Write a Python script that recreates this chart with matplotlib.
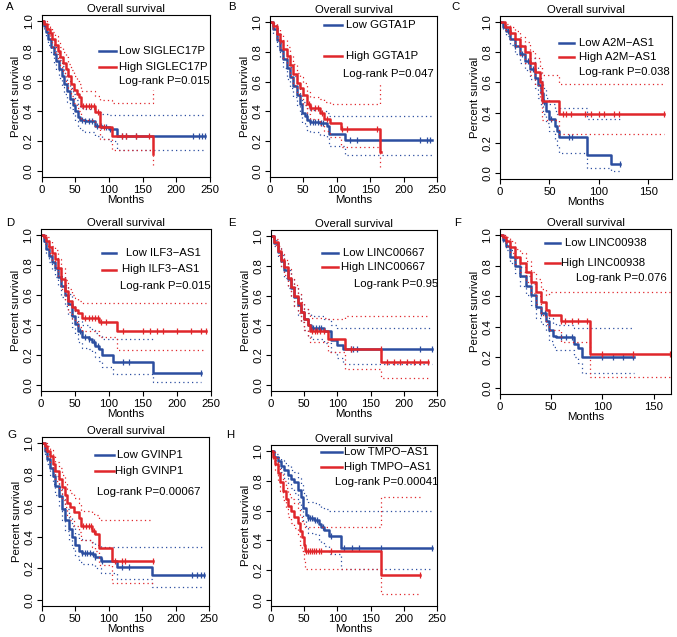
import numpy as np
import matplotlib
matplotlib.use("Agg")
import matplotlib.pyplot as plt

plt.rcParams["font.family"] = ["Liberation Sans", "DejaVu Sans"]

BLUE = "#2c4ea0"
RED = "#e0262b"

# (months, survival, ci_low, ci_high) step points
A_LOW = [(0, 1, 1, 1), (3, .97, .95, .99), (6, .93, .90, .96), (10, .88, .84, .92), (14, .83, .78, .88),
         (18, .78, .72, .84), (22, .73, .67, .79), (26, .68, .62, .74), (30, .63, .56, .70), (34, .58, .51, .65),
         (38, .53, .46, .60), (42, .48, .41, .55), (46, .44, .37, .51), (50, .40, .33, .47), (54, .36, .29, .43),
         (57, .34, .27, .42), (65, .33, .26, .41), (80, .30, .23, .39), (90, .29, .21, .38), (100, .28, .20, .37),
         (112, .23, .14, .37), (243, .23, .14, .37)]
A_HIGH = [(0, 1, 1, 1), (4, .98, .96, 1), (8, .95, .92, .98), (12, .92, .88, .96), (16, .88, .83, .93),
          (20, .84, .78, .90), (24, .80, .74, .86), (28, .76, .69, .83), (32, .72, .65, .79), (36, .68, .60, .76),
          (40, .63, .55, .71), (44, .58, .50, .67), (48, .54, .45, .63), (52, .51, .42, .60), (56, .49, .40, .58),
          (59, .43, .34, .53), (80, .39, .29, .50), (87, .29, .21, .47), (105, .23, .14, .45), (165, .11, .04, .54),
          (166, .11, .04, .54)]
A_LOW_CENS = [60, 65, 70, 75, 82, 88, 95, 102, 120, 125, 140, 225, 233, 238, 243]
A_HIGH_CENS = [62, 66, 70, 74, 78, 84, 92, 120, 125, 140, 160]

B_LOW = [(0, 1, 1, 1), (5, .95, .92, .98), (10, .88, .84, .92), (15, .81, .76, .86), (20, .75, .69, .81),
         (25, .69, .62, .75), (30, .63, .56, .70), (35, .57, .50, .64), (40, .51, .44, .58), (45, .45, .38, .52),
         (48, .39, .32, .46), (52, .37, .30, .44), (56, .34, .27, .42), (60, .33, .26, .41), (75, .32, .24, .40),
         (86, .30, .22, .39), (89, .25, .17, .37), (113, .21, .11, .37), (243, .21, .11, .37)]
B_HIGH = [(0, 1, 1, 1), (5, .97, .95, .99), (10, .92, .88, .96), (15, .87, .82, .92), (20, .82, .76, .88),
          (25, .77, .71, .83), (30, .71, .64, .78), (35, .65, .58, .72), (40, .59, .52, .66), (45, .56, .49, .63),
          (50, .51, .44, .59), (55, .45, .38, .53), (60, .42, .35, .50), (75, .39, .31, .48), (81, .35, .27, .46),
          (90, .32, .23, .45), (106, .28, .16, .45), (165, .13, .03, .59), (166, .13, .03, .59)]
B_LOW_CENS = [55, 60, 64, 68, 72, 76, 80, 120, 130, 225, 235, 240]
B_HIGH_CENS = [58, 62, 68, 72, 78, 85, 108, 115, 160]

C_LOW = [(0, 1, 1, 1), (3, .97, .95, .99), (6, .94, .91, .97), (10, .89, .85, .93), (15, .84, .79, .89),
         (20, .79, .73, .85), (25, .74, .68, .80), (30, .69, .62, .76), (35, .63, .56, .70), (38, .58, .50, .66),
         (41, .53, .45, .61), (44, .47, .39, .56), (47, .41, .33, .50), (50, .36, .28, .46), (56, .31, .22, .41),
         (58, .28, .18, .39), (60, .24, .13, .43), (88, .12, .03, .36), (112, .06, .01, .36), (121, .06, .01, .36)]
C_HIGH = [(0, 1, 1, 1), (5, .97, .95, .99), (10, .93, .89, .97), (15, .89, .84, .94), (20, .84, .78, .90),
          (25, .80, .73, .87), (30, .73, .65, .81), (35, .67, .58, .76), (40, .60, .50, .70), (42, .48, .35, .65),
          (60, .39, .26, .59), (166, .39, .26, .59)]
C_LOW_CENS = [8, 15, 22, 28, 33, 45, 52, 70, 73, 121]
C_HIGH_CENS = [64, 67, 72, 86, 92, 100, 105, 115, 120, 166]

D_LOW = [(0, 1, 1, 1), (4, .96, .94, .98), (8, .91, .88, .94), (12, .86, .82, .90), (16, .82, .77, .87),
         (20, .78, .72, .84), (25, .72, .66, .78), (30, .66, .59, .73), (35, .60, .53, .67), (40, .54, .47, .61),
         (45, .46, .39, .53), (50, .41, .34, .48), (55, .36, .29, .43), (60, .32, .25, .40), (70, .31, .24, .39),
         (75, .29, .22, .37), (80, .26, .19, .35), (85, .24, .16, .33), (90, .20, .12, .31), (106, .155, .075, .31),
         (165, .08, .02, np.nan), (236, .08, .02, np.nan)]
D_HIGH = [(0, 1, 1, 1), (4, .99, .98, 1), (8, .96, .93, .99), (12, .92, .88, .96), (16, .88, .83, .93),
          (20, .84, .78, .90), (25, .78, .72, .84), (30, .71, .64, .78), (35, .63, .56, .70), (40, .56, .49, .64),
          (45, .52, .44, .60), (50, .50, .42, .58), (55, .48, .39, .56), (60, .45, .36, .55), (85, .42, .32, .55),
          (112, .36, .235, .55), (242, .36, .235, .55)]
D_LOW_CENS = [58, 64, 70, 78, 84, 120, 130, 236]
D_HIGH_CENS = [64, 70, 75, 80, 84, 88, 95, 120, 150, 160, 170, 180, 200, 220, 235, 242]

E_LOW = [(0, 1, 1, 1), (5, .95, .93, .97), (10, .89, .86, .92), (15, .83, .79, .87), (20, .77, .72, .82),
         (25, .71, .65, .77), (30, .65, .59, .71), (35, .59, .53, .66), (40, .54, .47, .61), (45, .49, .42, .56),
         (50, .44, .37, .51), (55, .40, .33, .48), (60, .38, .31, .46), (80, .36, .28, .44), (90, .30, .22, .40),
         (100, .27, .18, .38), (108, .24, .14, .38), (243, .24, .14, .38)]
E_HIGH = [(0, 1, 1, 1), (5, .96, .94, .98), (10, .90, .87, .93), (15, .84, .80, .88), (20, .79, .74, .84),
          (25, .72, .66, .78), (30, .66, .60, .72), (35, .60, .53, .67), (40, .55, .48, .62), (45, .49, .42, .56),
          (50, .44, .37, .51), (55, .40, .33, .48), (58, .36, .29, .45), (86, .31, .22, .44), (112, .24, .11, .46),
          (166, .155, .05, .46), (236, .155, .05, .46)]
E_LOW_CENS = [60, 64, 68, 72, 76, 120, 124, 130, 225, 243]
E_HIGH_CENS = [62, 66, 70, 74, 80, 120, 165, 175, 185, 195, 205, 215, 225, 236]

F_LOW = [(0, 1, 1, 1), (3, .97, .95, .99), (6, .93, .90, .96), (10, .86, .82, .90), (15, .80, .75, .85),
         (20, .73, .67, .79), (25, .67, .61, .73), (30, .61, .54, .68), (35, .53, .46, .60), (40, .49, .42, .56),
         (45, .44, .37, .51), (48, .38, .31, .46), (52, .34, .27, .42), (55, .33, .25, .41), (72, .29, .20, .39),
         (76, .26, .16, .39), (80, .20, .10, .39), (131, .20, .10, .39)]
F_HIGH = [(0, 1, 1, 1), (3, .99, .98, 1), (6, .96, .93, .99), (10, .92, .88, .96), (15, .86, .81, .91),
          (20, .82, .76, .88), (25, .76, .69, .83), (30, .69, .62, .76), (35, .63, .55, .71), (40, .56, .48, .65),
          (45, .51, .42, .61), (48, .48, .38, .63), (60, .44, .30, .63), (88, .22, .07, .63), (166, .22, .07, .63)]
F_LOW_CENS = [40, 44, 60, 64, 70, 100, 110, 120, 130]
F_HIGH_CENS = [60, 63, 70, 76, 85, 100, 130, 166]

G_LOW = [(0, 1, 1, 1), (4, .95, .93, .97), (8, .90, .87, .93), (12, .84, .80, .88), (16, .79, .74, .84),
         (20, .73, .67, .79), (25, .66, .60, .72), (30, .58, .51, .65), (35, .51, .44, .58), (40, .45, .38, .52),
         (45, .40, .33, .47), (50, .35, .28, .42), (55, .31, .24, .39), (60, .30, .23, .38), (75, .29, .22, .37),
         (80, .27, .20, .35), (88, .245, .17, .34), (112, .21, .13, .34), (165, .16, .08, .34), (243, .16, .08, .34)]
G_HIGH = [(0, 1, 1, 1), (4, .98, .96, 1), (8, .95, .92, .98), (12, .92, .88, .96), (16, .87, .82, .92),
          (20, .82, .76, .88), (25, .77, .70, .84), (30, .72, .64, .80), (35, .67, .59, .75), (38, .62, .54, .71),
          (42, .59, .51, .68), (48, .56, .47, .65), (55, .52, .43, .62), (58, .47, .38, .57), (75, .44, .34, .55),
          (80, .42, .31, .54), (86, .33, .22, .51), (105, .25, .11, .51), (166, .25, .11, .51)]
G_LOW_CENS = [60, 64, 68, 72, 76, 80, 90, 120, 130, 225, 232, 238, 243]
G_HIGH_CENS = [62, 66, 70, 74, 78, 110, 120, 124, 166]

H_LOW = [(0, 1, 1, 1), (5, .96, .94, .98), (10, .93, .90, .96), (15, .90, .86, .94), (20, .87, .82, .92),
         (25, .84, .78, .90), (30, .81, .75, .87), (35, .79, .72, .86), (40, .74, .66, .82), (45, .69, .60, .78),
         (48, .62, .53, .72), (52, .57, .48, .68), (55, .55, .45, .66), (65, .54, .44, .65), (72, .51, .40, .63),
         (76, .49, .38, .62), (80, .47, .36, .61), (88, .43, .31, .60), (106, .35, .21, .60), (243, .35, .21, .60)]
H_HIGH = [(0, 1, 1, 1), (3, .96, .93, .99), (6, .91, .87, .95), (10, .85, .80, .90), (14, .79, .73, .85),
          (18, .73, .67, .80), (22, .68, .61, .75), (26, .63, .56, .71), (30, .60, .52, .68), (35, .56, .48, .65),
          (40, .52, .43, .61), (43, .46, .37, .56), (46, .42, .33, .53), (49, .37, .27, .50), (51, .33, .21, .49),
          (165, .165, .04, .69), (225, .165, .04, .69)]
H_LOW_CENS = [55, 58, 62, 66, 70, 78, 90, 110, 122, 132, 165, 243]
H_HIGH_CENS = [53, 56, 59, 62, 65, 68, 72, 76, 90, 225]

LETTERS = ["A", "B", "C", "D", "E", "F", "G", "H"]
GENES = ["SIGLEC17P", "GGTA1P", "A2M\u2212AS1", "ILF3\u2212AS1", "LINC00667", "LINC00938", "GVINP1", "TMPO\u2212AS1"]
PVALS = ["0.015", "0.047", "0.038", "0.015", "0.95", "0.076", "0.00067", "0.00041"]
XMAX = [250, 250, 174, 250, 250, 167, 250, 250]
XTICKS = [[0, 50, 100, 150, 200, 250]] * 2 + [[0, 50, 100, 150]] + [[0, 50, 100, 150, 200, 250]] * 2 \
    + [[0, 50, 100, 150]] + [[0, 50, 100, 150, 200, 250]] * 2
CURVES = [(A_LOW, A_HIGH, A_LOW_CENS, A_HIGH_CENS), (B_LOW, B_HIGH, B_LOW_CENS, B_HIGH_CENS),
          (C_LOW, C_HIGH, C_LOW_CENS, C_HIGH_CENS), (D_LOW, D_HIGH, D_LOW_CENS, D_HIGH_CENS),
          (E_LOW, E_HIGH, E_LOW_CENS, E_HIGH_CENS), (F_LOW, F_HIGH, F_LOW_CENS, F_HIGH_CENS),
          (G_LOW, G_HIGH, G_LOW_CENS, G_HIGH_CENS), (H_LOW, H_HIGH, H_LOW_CENS, H_HIGH_CENS)]

# layout in pixels: box left, right, top, bottom; letter x, y
W, H = 677, 637
BOXES = [(41.5, 210, 15, 177), (270, 437, 16, 177), (500, 672, 16, 179),
         (41, 211, 229, 391), (271, 437, 230, 391), (500, 671, 229, 394),
         (42, 209, 437, 606), (271, 437, 445, 606)]
LETTER_XY = [(10, 7), (232, 7), (455, 7), (10, 223), (232, 223), (458, 223), (12, 435), (230, 435)]
# legend: line x0, x1, low-text x, high-text x, low y, high y, p x, p y (axes fraction)
LEG = [(0.34, 0.44, 0.46, 0.46, 0.78, 0.676, 0.46, 0.593),
       (0.325, 0.43, 0.455, 0.455, 0.944, 0.75, 0.435, 0.64),
       (0.345, 0.43, 0.46, 0.46, 0.833, 0.75, 0.46, 0.657),
       (0.36, 0.44, 0.50, 0.475, 0.852, 0.75, 0.465, 0.648),
       (0.31, 0.405, 0.435, 0.42, 0.86, 0.768, 0.50, 0.667),
       (0.263, 0.35, 0.38, 0.355, 0.917, 0.796, 0.445, 0.704),
       (0.32, 0.43, 0.45, 0.44, 0.893, 0.796, 0.33, 0.676),
       (0.30, 0.425, 0.44, 0.44, 0.954, 0.861, 0.385, 0.769)]

FS = 8.2
fig = plt.figure(figsize=(W / 100, H / 100), dpi=100)


def draw_group(ax, rows, cens, color):
    t, s, lo, hi = (np.array(c, dtype=float) for c in zip(*rows))
    ax.step(t, lo, where="post", color=color, lw=0.9, ls=(0, (1, 2.5)))
    ax.step(t, hi, where="post", color=color, lw=0.9, ls=(0, (1, 2.5)))
    ax.step(t, s, where="post", color=color, lw=1.8)
    cens = np.array(cens, dtype=float)
    idx = np.searchsorted(t, cens, side="right") - 1
    ax.plot(cens, s[idx], ls="none", marker="|", ms=5, mew=0.9, color=color)


for i in range(8):
    l, r, t, b = BOXES[i]
    ax = fig.add_axes([l / W, 1 - b / H, (r - l) / W, (b - t) / H])
    low, high, lc, hc = CURVES[i]
    draw_group(ax, low, lc, BLUE)
    draw_group(ax, high, hc, RED)
    ax.set_xlim(0, XMAX[i])
    ax.set_ylim(-0.04, 1.04)
    ax.set_xticks(XTICKS[i])
    ax.set_yticks([0, 0.2, 0.4, 0.6, 0.8, 1.0])
    ax.set_yticklabels(["0.0", "0.2", "0.4", "0.6", "0.8", "1.0"], rotation=90, va="center")
    ax.tick_params(direction="out", length=3.5, width=0.8, labelsize=FS, pad=2)
    for sp in ax.spines.values():
        sp.set_linewidth(0.8)
    ax.set_title("Overall survival", fontsize=FS, pad=2)
    ax.set_xlabel("Months", fontsize=FS, labelpad=0)
    ax.set_ylabel("Percent survival", fontsize=FS, labelpad=2)

    x0, x1, tlx, thx, ly, hy, px, py = LEG[i]
    ax.plot([x0, x1], [ly, ly], color=BLUE, lw=1.8, transform=ax.transAxes, clip_on=False)
    ax.plot([x0, x1], [hy, hy], color=RED, lw=1.8, transform=ax.transAxes, clip_on=False)
    ax.text(tlx, ly, "Low " + GENES[i], transform=ax.transAxes, fontsize=FS, va="center")
    ax.text(thx, hy, "High " + GENES[i], transform=ax.transAxes, fontsize=FS, va="center")
    ax.text(px, py, "Log-rank P=" + PVALS[i], transform=ax.transAxes, fontsize=FS, va="center")

    lx, ly_ = LETTER_XY[i]
    fig.text(lx / W, 1 - ly_ / H, LETTERS[i], fontsize=FS, ha="center", va="center")

fig.savefig("out.png", dpi=100)
